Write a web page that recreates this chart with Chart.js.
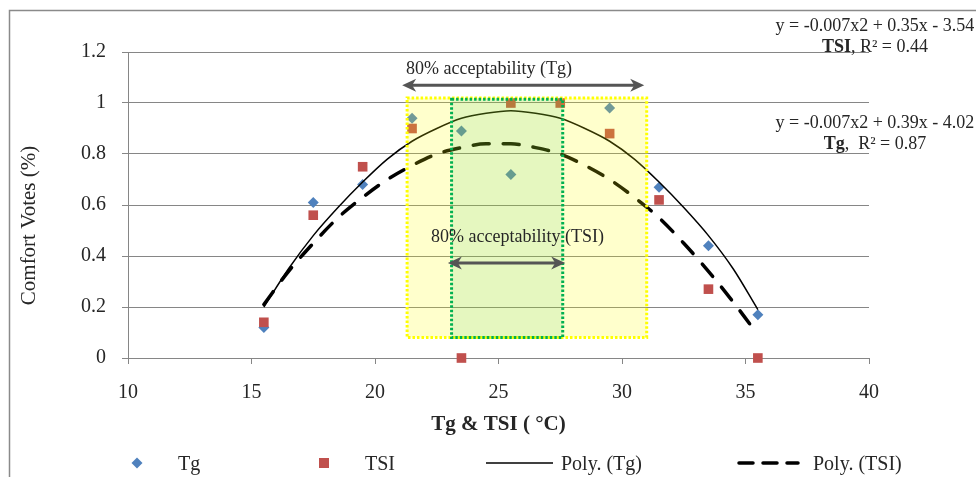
<!DOCTYPE html>
<html><head><meta charset="utf-8">
<script src="https://cdn.jsdelivr.net/npm/chart.js@4/dist/chart.umd.min.js"></script>
<style>html,body{margin:0;padding:0;background:#fff;overflow:hidden}#wrap{width:976px;height:477px;position:relative}</style>
</head><body><div id="wrap"><canvas id="c" width="976" height="477"></canvas></div>
<script>
// ---- data ----
const tgX = [15.5, 17.5, 19.5, 21.5, 23.5, 25.5, 29.5, 31.5, 33.5, 35.5];
const tgY = [0.12, 0.61, 0.68, 0.94, 0.89, 0.72, 0.98, 0.67, 0.44, 0.17];
const tsiX = [15.5, 17.5, 19.5, 21.5, 23.5, 25.5, 27.5, 29.5, 31.5, 33.5, 35.5];
const tsiY = [0.14, 0.56, 0.75, 0.90, 0.00, 1.00, 1.00, 0.88, 0.62, 0.27, 0.00];
const polyTgX = [15.5,16.5,17.5,18.5,19.5,20.5,21.5,22.5,23.5,24.5,25.5,26.5,27.5,28.5,29.5,30.5,31.5,32.5,33.5,34.5,35.5];
const polyTgY = [0.20,0.35,0.48,0.59,0.69,0.78,0.85,0.90,0.94,0.96,0.97,0.96,0.94,0.90,0.85,0.78,0.69,0.59,0.48,0.35,0.19];
const polyTsiX = [15.5,16.5,17.5,18.5,19.5,20.5,21.5,22.5,23.5,24.5,25.5,26.5,27.5,28.5,29.5,30.5,31.5,32.5,33.5,34.5,35.2];
const polyTsiY = [0.21,0.34,0.45,0.55,0.63,0.70,0.755,0.80,0.825,0.84,0.84,0.825,0.80,0.755,0.70,0.63,0.55,0.45,0.34,0.22,0.13];
const xTicks = [10, 15, 20, 25, 30, 35, 40];
const yTicks = [0, 0.2, 0.4, 0.6, 0.8, 1, 1.2];
const seriesNames = ['Tg', 'TSI', 'Poly. (Tg)', 'Poly. (TSI)'];
const bandTgX = [21.3, 31.0];
const bandTgY = [0.08, 1.02];
const bandTsiX = [23.1, 27.6];
const bandTsiY = [0.08, 1.015];
const arrowTg = [21.1, 30.9, 1.07];
const arrowTsi = [22.95, 27.7, 0.373];
const noteTgText = '80% acceptability (Tg)';
const noteTsiText = '80% acceptability (TSI)';
const noteTgPos = [21.26, 1.114];
const noteTsiPos = [22.27, 0.455];
const eqTsi = ['y = -0.007x2 + 0.35x - 3.54', 'TSI', ', R\u00B2 = 0.44'];
const eqTg = ['y = -0.007x2 + 0.39x - 4.02', 'Tg', ',  R\u00B2 = 0.87'];
const eqX = 40.24;
const eqTsiY = [1.282, 1.2];
const eqTgY = [0.902, 0.82];
const xTitle = 'Tg & TSI ( \u00B0C)';
const yTitle = 'Comfort Votes (%)';

const FONT = '"Liberation Serif", "Times New Roman", serif';
const TXT = '#262626';
const GRID = '#868686';
const BLUE = '#4F81BD';
const RED = '#C0504D';
const DASH = [16, 14];

const pts = (xs, ys) => xs.map((x, i) => ({x: x, y: ys[i]}));

function drawArrow(ctx, x1, x2, y) {
  ctx.save();
  ctx.strokeStyle = '#555'; ctx.fillStyle = '#555'; ctx.lineWidth = 3;
  ctx.beginPath(); ctx.moveTo(x1 + 8, y); ctx.lineTo(x2 - 8, y); ctx.stroke();
  const head = (tx, dir) => {
    ctx.beginPath();
    ctx.moveTo(tx, y);
    ctx.lineTo(tx + dir * 14, y - 6.5);
    ctx.lineTo(tx + dir * 10, y);
    ctx.lineTo(tx + dir * 14, y + 6.5);
    ctx.closePath(); ctx.fill();
  };
  head(x1, 1); head(x2, -1);
  ctx.restore();
}

const overlay = {
  id: 'overlay',
  beforeDraw(chart) {
    const ctx = chart.ctx;
    ctx.save();
    ctx.fillStyle = '#fff'; ctx.fillRect(0, 0, chart.width, chart.height);
    ctx.strokeStyle = '#8a8a8a'; ctx.lineWidth = 1.5;
    ctx.strokeRect(9.5, 10.5, 1000, 500);
    ctx.restore();
  },
  afterDatasetsDraw(chart) {
    const ctx = chart.ctx, xs = chart.scales.x, ys = chart.scales.y;
    const band = (bx, by, fill, stroke) => {
      const l = xs.getPixelForValue(bx[0]), r = xs.getPixelForValue(bx[1]);
      const t = ys.getPixelForValue(by[1]), b = ys.getPixelForValue(by[0]);
      ctx.save();
      ctx.fillStyle = fill; ctx.fillRect(l, t, r - l, b - t);
      ctx.strokeStyle = stroke; ctx.lineWidth = 3; ctx.setLineDash([2.5, 2]);
      ctx.strokeRect(l, t, r - l, b - t);
      ctx.restore();
    };
    band(bandTgX, bandTgY, 'rgba(255,255,0,0.2)', '#FFFF00');
    band(bandTsiX, bandTsiY, 'rgba(0,176,80,0.1)', '#00B050');
  },
  afterDraw(chart) {
    const ctx = chart.ctx, xs = chart.scales.x, ys = chart.scales.y;
    drawArrow(ctx, xs.getPixelForValue(arrowTg[0]), xs.getPixelForValue(arrowTg[1]), ys.getPixelForValue(arrowTg[2]));
    drawArrow(ctx, xs.getPixelForValue(arrowTsi[0]), xs.getPixelForValue(arrowTsi[1]), ys.getPixelForValue(arrowTsi[2]));
    ctx.save();
    ctx.fillStyle = TXT; ctx.textBaseline = 'alphabetic';
    ctx.font = '18px ' + FONT; ctx.textAlign = 'left';
    ctx.fillText(noteTgText, xs.getPixelForValue(noteTgPos[0]), ys.getPixelForValue(noteTgPos[1]));
    ctx.fillText(noteTsiText, xs.getPixelForValue(noteTsiPos[0]), ys.getPixelForValue(noteTsiPos[1]));
    // trendline equations
    const cx = xs.getPixelForValue(eqX);
    const eq = (lines, yv) => {
      ctx.font = '18px ' + FONT; ctx.textAlign = 'center';
      ctx.fillText(lines[0], cx, ys.getPixelForValue(yv[0]));
      ctx.textAlign = 'left';
      ctx.font = 'bold 18px ' + FONT; const w1 = ctx.measureText(lines[1]).width;
      ctx.font = '18px ' + FONT; const w2 = ctx.measureText(lines[2]).width;
      const sx = cx - (w1 + w2) / 2, by = ys.getPixelForValue(yv[1]);
      ctx.font = 'bold 18px ' + FONT; ctx.fillText(lines[1], sx, by);
      ctx.font = '18px ' + FONT; ctx.fillText(lines[2], sx + w1, by);
    };
    eq(eqTsi, eqTsiY);
    eq(eqTg, eqTgY);
    // y axis title
    ctx.save();
    ctx.translate(35, 225.5); ctx.rotate(-Math.PI / 2);
    ctx.font = '21px ' + FONT; ctx.textAlign = 'center';
    ctx.fillText(yTitle, 0, 0);
    ctx.restore();
    // legend
    const ly = 463;
    ctx.font = '20px ' + FONT; ctx.textAlign = 'left'; ctx.textBaseline = 'alphabetic';
    ctx.fillStyle = BLUE; ctx.beginPath();
    ctx.moveTo(137, ly - 5.5); ctx.lineTo(142.5, ly); ctx.lineTo(137, ly + 5.5); ctx.lineTo(131.5, ly); ctx.closePath(); ctx.fill();
    ctx.fillStyle = TXT; ctx.fillText(seriesNames[0], 178, 470);
    ctx.fillStyle = RED; ctx.fillRect(319, ly - 5, 10, 10);
    ctx.fillStyle = TXT; ctx.fillText(seriesNames[1], 365, 470);
    ctx.strokeStyle = '#000'; ctx.lineWidth = 1.5;
    ctx.beginPath(); ctx.moveTo(486, ly); ctx.lineTo(553, ly); ctx.stroke();
    ctx.fillText(seriesNames[2], 561, 470);
    ctx.lineWidth = 3.5; ctx.lineCap = 'round'; ctx.setLineDash([14, 10]);
    ctx.beginPath(); ctx.moveTo(739, ly); ctx.lineTo(798, ly); ctx.stroke();
    ctx.setLineDash([]);
    ctx.fillText(seriesNames[3], 813, 470);
    ctx.restore();
  }
};

new Chart(document.getElementById('c'), {
  type: 'scatter',
  data: {
    datasets: [
      { label: seriesNames[3], data: pts(polyTsiX, polyTsiY), showLine: true, pointRadius: 0, borderColor: '#000', borderWidth: 3.5,
        borderDash: DASH, borderCapStyle: 'round', cubicInterpolationMode: 'monotone', order: 0, clip: false },
      { label: seriesNames[2], data: pts(polyTgX, polyTgY), showLine: true, pointRadius: 0, borderColor: '#000', borderWidth: 1.5,
        cubicInterpolationMode: 'monotone', order: 1, clip: false },
      { label: seriesNames[1], data: pts(tsiX, tsiY), pointStyle: 'rect', pointRadius: 6.8, backgroundColor: RED, borderColor: RED, borderWidth: 0, order: 2, clip: false },
      { label: seriesNames[0], data: pts(tgX, tgY), pointStyle: 'rectRot', pointRadius: 5.5, backgroundColor: BLUE, borderColor: BLUE, borderWidth: 0, order: 3, clip: false }
    ]
  },
  options: {
    responsive: false, animation: false, devicePixelRatio: 1,
    layout: { padding: { left: 0, top: 52, right: 107, bottom: 40 } },
    plugins: { legend: { display: false }, tooltip: { enabled: false } },
    scales: {
      x: {
        type: 'linear', min: 10, max: 40,
        afterBuildTicks: s => { s.ticks = xTicks.map(v => ({ value: v })); },
        afterFit: s => { s.height = 79; },
        grid: { drawOnChartArea: false, drawTicks: true, tickLength: 6, color: GRID, lineWidth: 1 },
        border: { display: true, color: GRID, width: 1 },
        ticks: { color: TXT, font: { family: FONT, size: 20 }, padding: 17, maxRotation: 0 },
        title: { display: true, text: xTitle, color: TXT, font: { family: FONT, size: 21, weight: 'bold' }, padding: { top: 0, bottom: 0 } }
      },
      y: {
        type: 'linear', min: 0, max: 1.2,
        afterBuildTicks: s => { s.ticks = yTicks.map(v => ({ value: v })); },
        afterFit: s => { s.width = 128; },
        grid: { drawOnChartArea: true, drawTicks: true, tickLength: 6, color: GRID, lineWidth: 1 },
        border: { display: true, color: GRID, width: 1 },
        ticks: { color: TXT, font: { family: FONT, size: 20 }, padding: 16, callback: v => String(v) }
      }
    }
  },
  plugins: [overlay]
});
</script>
</body></html>
